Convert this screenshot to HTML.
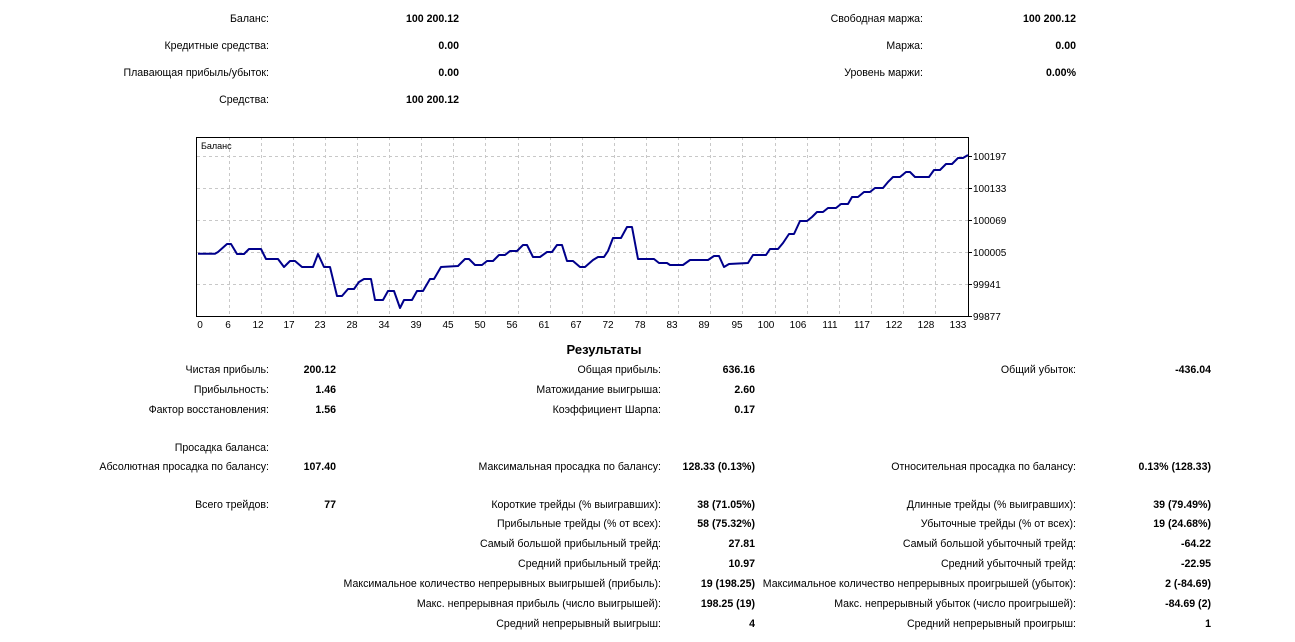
<!DOCTYPE html>
<html><head><meta charset="utf-8"><style>
body{margin:0;width:1295px;height:642px;background:#fff;position:relative;overflow:hidden;font-family:"Liberation Sans","DejaVu Sans",sans-serif;font-size:10.6px;color:#000}
.l,.v{position:absolute;white-space:nowrap;text-align:right;line-height:13px;margin-top:1px}
.v{font-weight:bold}
</style></head><body>
<div class="l" style="right:1026px;top:12px">Баланс:</div><div class="v" style="right:836px;top:12px">100 200.12</div>
<div class="l" style="right:1026px;top:39px">Кредитные средства:</div><div class="v" style="right:836px;top:39px">0.00</div>
<div class="l" style="right:1026px;top:66px">Плавающая прибыль/убыток:</div><div class="v" style="right:836px;top:66px">0.00</div>
<div class="l" style="right:1026px;top:93px">Средства:</div><div class="v" style="right:836px;top:93px">100 200.12</div>
<div class="l" style="right:372px;top:12px">Свободная маржа:</div><div class="v" style="right:219px;top:12px">100 200.12</div>
<div class="l" style="right:372px;top:39px">Маржа:</div><div class="v" style="right:219px;top:39px">0.00</div>
<div class="l" style="right:372px;top:66px">Уровень маржи:</div><div class="v" style="right:219px;top:66px">0.00%</div>

<svg style="position:absolute;left:0;top:0" width="1295" height="342" font-family="Liberation Sans, DejaVu Sans, sans-serif" font-size="10">
<g stroke="#c8c8c8" stroke-dasharray="3,3" stroke-width="1">
<line x1="197" y1="156.5" x2="968" y2="156.5"/><line x1="197" y1="188.5" x2="968" y2="188.5"/><line x1="197" y1="220.5" x2="968" y2="220.5"/><line x1="197" y1="252.5" x2="968" y2="252.5"/><line x1="197" y1="284.5" x2="968" y2="284.5"/>
<line x1="229.5" y1="137" x2="229.5" y2="316"/><line x1="261.5" y1="137" x2="261.5" y2="316"/><line x1="293.5" y1="137" x2="293.5" y2="316"/><line x1="325.5" y1="137" x2="325.5" y2="316"/><line x1="357.5" y1="137" x2="357.5" y2="316"/><line x1="389.5" y1="137" x2="389.5" y2="316"/><line x1="421.5" y1="137" x2="421.5" y2="316"/><line x1="453.5" y1="137" x2="453.5" y2="316"/><line x1="485.5" y1="137" x2="485.5" y2="316"/><line x1="518.5" y1="137" x2="518.5" y2="316"/><line x1="550.5" y1="137" x2="550.5" y2="316"/><line x1="582.5" y1="137" x2="582.5" y2="316"/><line x1="614.5" y1="137" x2="614.5" y2="316"/><line x1="646.5" y1="137" x2="646.5" y2="316"/><line x1="678.5" y1="137" x2="678.5" y2="316"/><line x1="710.5" y1="137" x2="710.5" y2="316"/><line x1="742.5" y1="137" x2="742.5" y2="316"/><line x1="775.5" y1="137" x2="775.5" y2="316"/><line x1="807.5" y1="137" x2="807.5" y2="316"/><line x1="839.5" y1="137" x2="839.5" y2="316"/><line x1="871.5" y1="137" x2="871.5" y2="316"/><line x1="903.5" y1="137" x2="903.5" y2="316"/><line x1="935.5" y1="137" x2="935.5" y2="316"/>
</g>
<rect x="196.5" y="137.5" width="772" height="179" fill="none" stroke="#000"/>
<g stroke="#000"><line x1="968" y1="156.5" x2="972" y2="156.5"/><line x1="968" y1="188.5" x2="972" y2="188.5"/><line x1="968" y1="220.5" x2="972" y2="220.5"/><line x1="968" y1="252.5" x2="972" y2="252.5"/><line x1="968" y1="284.5" x2="972" y2="284.5"/><line x1="968" y1="316.5" x2="972" y2="316.5"/></g>
<text x="201" y="149" font-size="9">Баланс</text>
<polyline fill="none" stroke="#00008b" stroke-width="2" stroke-linejoin="round" points="198,253.7 215,253.7 218,252 227,244 231,244 237,254 244,254 249,249 261,249 266,259 278,259 284,267 290,261 295,261 302,267 313,267 318,254 324,267 330,267 337,296 342,296 348,289 354,289 359,282 364,279 371,279 375,300 383,300 388,291 394,291 400,308 404,300 412,300 417,291 423,291 430,279 434,279 441,267 458,266 465,259 469,259 475,265 482,265 487,261 493,261 499,255 505,255 510,251 517,251 523,245 527,245 533,257 540,257 547,252 552,252 557,245 562,245 567,261 573,261 580,267 585,267 593,260 598,257 604,257 608,251 613,238 621,238 627,227 632,227 638,259 654,259 659,263 667,263 670,265 683,265 690,260 708,260 714,256 719,256 724,267 729,264 748,263 753,255 766,255 770,249 778,249 783,243 789,234 794,234 800,221 807,221 812,217 817,212 823,212 828,208 836,208 841,204 848,204 852,197 858,197 864,192 870,192 875,188 883,188 888,182 893,177 900,177 906,172 910,172 915,177 929,177 934,170 940,170 946,164 952,164 958,158 963,158 968,155"/>
<g font-size="10"><text x="973" y="160">100197</text><text x="973" y="192">100133</text><text x="973" y="224">100069</text><text x="973" y="256">100005</text><text x="973" y="288">99941</text><text x="973" y="320">99877</text></g>
<g font-size="10" text-anchor="middle">
<text x="200" y="328">0</text><text x="228" y="328">6</text><text x="258" y="328">12</text><text x="289" y="328">17</text><text x="320" y="328">23</text><text x="352" y="328">28</text><text x="384" y="328">34</text><text x="416" y="328">39</text><text x="448" y="328">45</text><text x="480" y="328">50</text><text x="512" y="328">56</text><text x="544" y="328">61</text><text x="576" y="328">67</text><text x="608" y="328">72</text><text x="640" y="328">78</text><text x="672" y="328">83</text><text x="704" y="328">89</text><text x="737" y="328">95</text><text x="766" y="328">100</text><text x="798" y="328">106</text><text x="830" y="328">111</text><text x="862" y="328">117</text><text x="894" y="328">122</text><text x="926" y="328">128</text><text x="958" y="328">133</text>
</g>
</svg>

<div style="position:absolute;left:504px;width:200px;top:342px;text-align:center;font-weight:bold;font-size:13px;line-height:15px">Результаты</div>

<div class="l" style="right:1026px;top:363px">Чистая прибыль:</div><div class="v" style="right:959px;top:363px">200.12</div>
<div class="l" style="right:1026px;top:383px">Прибыльность:</div><div class="v" style="right:959px;top:383px">1.46</div>
<div class="l" style="right:1026px;top:403px">Фактор восстановления:</div><div class="v" style="right:959px;top:403px">1.56</div>
<div class="l" style="right:634px;top:363px">Общая прибыль:</div><div class="v" style="right:540px;top:363px">636.16</div>
<div class="l" style="right:634px;top:383px">Матожидание выигрыша:</div><div class="v" style="right:540px;top:383px">2.60</div>
<div class="l" style="right:634px;top:403px">Коэффициент Шарпа:</div><div class="v" style="right:540px;top:403px">0.17</div>
<div class="l" style="right:219px;top:363px">Общий убыток:</div><div class="v" style="right:84px;top:363px">-436.04</div>

<div class="l" style="right:1026px;top:441px">Просадка баланса:</div>
<div class="l" style="right:1026px;top:460px">Абсолютная просадка по балансу:</div><div class="v" style="right:959px;top:460px">107.40</div>
<div class="l" style="right:634px;top:460px">Максимальная просадка по балансу:</div><div class="v" style="right:540px;top:460px">128.33 (0.13%)</div>
<div class="l" style="right:219px;top:460px">Относительная просадка по балансу:</div><div class="v" style="right:84px;top:460px">0.13% (128.33)</div>

<div class="l" style="right:1026px;top:498px">Всего трейдов:</div><div class="v" style="right:959px;top:498px">77</div>
<div class="l" style="right:634px;top:498px">Короткие трейды (% выигравших):</div><div class="v" style="right:540px;top:498px">38 (71.05%)</div>
<div class="l" style="right:634px;top:517px">Прибыльные трейды (% от всех):</div><div class="v" style="right:540px;top:517px">58 (75.32%)</div>
<div class="l" style="right:634px;top:537px">Самый большой прибыльный трейд:</div><div class="v" style="right:540px;top:537px">27.81</div>
<div class="l" style="right:634px;top:557px">Средний прибыльный трейд:</div><div class="v" style="right:540px;top:557px">10.97</div>
<div class="l" style="right:634px;top:577px">Максимальное количество непрерывных выигрышей (прибыль):</div><div class="v" style="right:540px;top:577px">19 (198.25)</div>
<div class="l" style="right:634px;top:597px">Макс. непрерывная прибыль (число выигрышей):</div><div class="v" style="right:540px;top:597px">198.25 (19)</div>
<div class="l" style="right:634px;top:617px">Средний непрерывный выигрыш:</div><div class="v" style="right:540px;top:617px">4</div>

<div class="l" style="right:219px;top:498px">Длинные трейды (% выигравших):</div><div class="v" style="right:84px;top:498px">39 (79.49%)</div>
<div class="l" style="right:219px;top:517px">Убыточные трейды (% от всех):</div><div class="v" style="right:84px;top:517px">19 (24.68%)</div>
<div class="l" style="right:219px;top:537px">Самый большой убыточный трейд:</div><div class="v" style="right:84px;top:537px">-64.22</div>
<div class="l" style="right:219px;top:557px">Средний убыточный трейд:</div><div class="v" style="right:84px;top:557px">-22.95</div>
<div class="l" style="right:219px;top:577px">Максимальное количество непрерывных проигрышей (убыток):</div><div class="v" style="right:84px;top:577px">2 (-84.69)</div>
<div class="l" style="right:219px;top:597px">Макс. непрерывный убыток (число проигрышей):</div><div class="v" style="right:84px;top:597px">-84.69 (2)</div>
<div class="l" style="right:219px;top:617px">Средний непрерывный проигрыш:</div><div class="v" style="right:84px;top:617px">1</div>
</body></html>
